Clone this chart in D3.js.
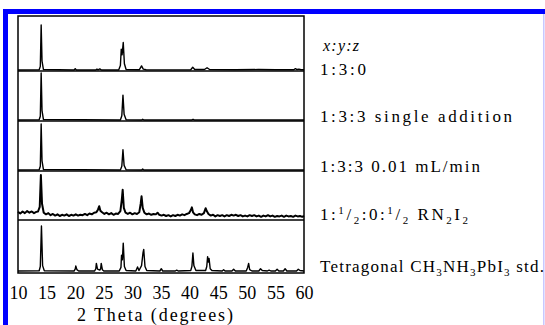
<!DOCTYPE html>
<html>
<head>
<meta charset="utf-8">
<script src="https://cdn.jsdelivr.net/npm/d3@7"></script>
<style>
  body { margin: 0; background: #fff; }
  svg { display: block; }
  text { font-family: "Liberation Serif", "Times New Roman", "DejaVu Serif", serif; fill: #000; }
</style>
</head>
<body>
<script>
// 2 theta tick labels
let xTicks = [10, 15, 20, 25, 30, 35, 40, 45, 50, 55, 60]

// each pattern as [2theta, relative intensity]
let xrd130 = [[10,0],[13.7,0.5],[13.9,8],[14.05,100],[14.2,20],[14.45,1],[19.8,0],[20.0,3],[20.2,0],[23.6,0],[23.8,2],[24.0,0.5],[24.3,2.5],[24.6,0],
	[27.6,0],[27.9,10],[28.05,46],[28.2,34],[28.4,61],[28.6,14],[28.9,1],[31.2,0.5],[31.6,9],[31.9,2],[32.4,0.5],[36,0.3],[40.2,0.5],[40.55,6],[40.9,1],
	[42.6,1],[43.05,5],[43.5,1],[48,0.5],[52,1],[55,0.4],[58.2,0.5],[58.5,3],[58.8,1],[59.1,2],[59.5,0.5],[60,0.5]]

let xrd133single = [[10,0],[13.7,0.5],[13.9,8],[14.05,100],[14.2,20],[14.45,1],[27.9,0],[28.15,9],[28.35,53],[28.55,12],[28.9,0.5],
	[31.6,0],[31.8,1.5],[32.0,0],[40.4,0],[40.6,1.5],[40.8,0],[60,0]]

let xrd133slow = [[10,0],[13.7,0.5],[13.9,8],[14.05,100],[14.2,20],[14.45,1],[27.9,0],[28.15,8],[28.35,44],[28.55,10],[28.9,0.5],
	[31.6,0],[31.8,2],[32.0,0],[60,0]]

let xrdRN2I2 = [[10,10],[10.4,6],[10.8,11],[11.2,7],[11.6,12],[12,8],[12.4,11],[12.8,7],[13.2,10],[13.5,11],[13.8,22],[14.0,100],[14.2,30],[14.5,8],
	[14.9,4],[15.3,7],[15.7,2],[16.1,5],[16.5,1],[16.9,4],[17.3,0],[17.7,3],[18.1,1],[18.5,4],[18.9,0],[19.3,3],[19.7,1],[20.1,4],[20.5,1],[20.9,3],
	[21.3,2],[21.7,5],[22.1,2],[22.5,6],[22.9,4],[23.3,8],[23.7,9],[24.0,16],[24.2,24],[24.4,13],[24.7,9],[25.1,5],[25.5,8],[25.9,4],[26.3,7],[26.7,3],
	[27.1,6],[27.5,5],[27.9,12],[28.15,40],[28.3,64],[28.5,20],[28.8,8],[29.2,5],[29.6,8],[30.0,4],[30.4,7],[30.8,5],[31.2,9],[31.45,30],[31.6,48],
	[31.8,20],[32.1,8],[32.5,4],[32.9,6],[33.3,3],[33.7,5],[34.1,4],[34.4,8],[34.7,3],[35.1,1],[35.5,3],[35.9,0],[36.3,2],[36.7,-1],[37.1,2],[37.5,0],
	[37.9,3],[38.3,1],[38.7,4],[39.1,2],[39.5,5],[39.9,7],[40.2,14],[40.4,21],[40.6,9],[40.9,4],[41.3,2],[41.7,5],[42.1,3],[42.5,7],[42.8,19],[43.0,12],
	[43.3,5],[43.7,1],[44.1,3],[44.5,-1],[44.9,2],[45.3,0],[45.7,2],[46.1,-1],[46.5,2],[46.9,0],[47.3,3],[47.7,1],[48.1,3],[48.5,0],[48.9,2],[49.3,-1],
	[49.7,1],[50.1,-1],[50.5,2],[50.9,0],[51.3,2],[51.7,-1],[52.1,1],[52.5,-2],[52.9,1],[53.3,-1],[53.7,2],[54.1,-1],[54.5,1],[54.9,-2],[55.3,0],
	[55.7,-1],[56.1,1],[56.5,-2],[56.9,1],[57.3,-1],[57.7,0],[58.1,-2],[58.5,1],[58.9,-1],[59.3,0],[59.7,-2],[60,0]]

let xrdStd = [[10,0],[13.7,0.5],[13.9,10],[14.1,100],[14.3,12],[14.6,0.5],[19.8,0],[20.0,4],[20.1,11],[20.3,3],[20.6,0],[23.4,0],[23.6,5],[23.7,17],
	[23.9,4],[24.3,2],[24.45,5],[24.55,17],[24.75,3],[25.0,0],[27.7,0],[28.0,8],[28.1,35],[28.25,25],[28.4,62],[28.6,10],[28.9,1],[30.6,0],[30.9,9],
	[31.15,1],[31.6,12],[31.85,40],[31.98,48],[32.2,10],[32.5,1],[34.8,0],[35.05,5],[35.3,0],[37.5,0],[37.75,2],[38.0,0],[40.2,1],[40.4,10],[40.58,40],
	[40.75,12],[41.1,1],[42.8,1],[43.0,10],[43.15,32],[43.28,20],[43.4,28],[43.6,5],[43.9,1],[45.7,0],[45.95,3],[46.2,0],[47.4,0],[47.7,4],[48.0,0],
	[49.9,0],[50.15,8],[50.32,17],[50.5,3],[50.9,0],[52.1,0],[52.4,5],[52.7,1],[53.6,0],[53.9,2],[54.2,0],[55.0,0],[55.3,4],[55.6,0],[56.4,0],[56.7,5],
	[57.0,0],[58.7,0],[59.0,4],[59.3,1],[60,0]]

let series = [xrd130, xrd133single, xrd133slow, xrdRN2I2, xrdStd]

let width = 545, height = 325
let plot = {left: 18, right: 304, top: 16, bottom: 273}
// baseline / peak-top pixel rows of each stacked panel
let baselines = [70, 120, 170, 216, 271]
let peakTops = [25, 73, 124, 175, 226]
let separators = [71, 121, 171, 220]
let fontList = '"Liberation Serif", "Times New Roman", "DejaVu Serif", serif'

let svg = d3.select('body').append('svg')
	.attr('width', width).attr('height', height)

// blue window border
svg.append('rect').attr('x', 3).attr('y', 9).attr('width', 542).attr('height', 5).attr('fill', '#0000ff')
svg.append('rect').attr('x', 3).attr('y', 9).attr('width', 5).attr('height', 316).attr('fill', '#0000ff')
svg.append('rect').attr('x', 543).attr('y', 14).attr('width', 1.5).attr('height', 311).attr('fill', '#c8c8ff')

let x = d3.scaleLinear().domain([10, 60]).range([plot.left, plot.right])

let line = d3.line()

series.forEach(function(data, i) {
	let y = d3.scaleLinear().domain([0, 100]).range([baselines[i], peakTops[i]])
	line.x(d => x(d[0])).y(d => y(d[1]))
	svg.append('path')
		.attr('d', line(data))
		.attr('fill', 'none')
		.attr('stroke', '#000')
		.attr('stroke-width', i == 3 ? 2 : 1.4)
		.attr('stroke-linejoin', 'round')
})

// frame and panel separators
svg.append('rect')
	.attr('x', plot.left).attr('y', plot.top)
	.attr('width', plot.right - plot.left).attr('height', plot.bottom - plot.top)
	.attr('fill', 'none').attr('stroke', '#000').attr('stroke-width', 1.5)
svg.selectAll('line.sep').data(separators).enter().append('line')
	.attr('class', 'sep')
	.attr('x1', plot.left).attr('x2', plot.right)
	.attr('y1', d => d).attr('y2', d => d)
	.attr('stroke', '#000').attr('stroke-width', 1.3)

let axis = svg.append('g')
	.attr('transform', `translate(0,${plot.bottom})`)
	.call(d3.axisBottom(x).tickValues(xTicks).tickSize(0).tickPadding(13))
axis.attr('font-family', null)
axis.select('.domain').remove()
axis.selectAll('text')
	.style('font-family', fontList)
	.style('font-size', '18px')
	.attr('textLength', 18).attr('lengthAdjust', 'spacing')

svg.append('text')
	.attr('x', 77).attr('y', 321)
	.attr('textLength', 156).attr('lengthAdjust', 'spacing')
	.style('font-size', '18px')
	.text('2 Theta (degrees)')

// sample labels
svg.append('text')
	.attr('x', 323).attr('y', 51)
	.attr('textLength', 36).attr('lengthAdjust', 'spacing')
	.style('font-size', '16px').style('font-style', 'italic')
	.text('x:y:z')

let addLabel = function(yPos, len, parts) {
	let t = svg.append('text')
		.attr('x', 320).attr('y', yPos)
		.attr('textLength', len).attr('lengthAdjust', 'spacing')
		.style('font-size', '17px')
	for (let p of parts) {
		let s = t.append('tspan').text(p[0])
		if (p[1] == 'sub') s.attr('dy', 4).style('font-size', '11px')
		if (p[1] == 'sup') s.attr('dy', -6).style('font-size', '11px')
		if (p[2]) s.attr('dy', p[2])
	}
}

addLabel(75, 46, [['1:3:0']])
addLabel(122, 192, [['1:3:3 single addition']])
addLabel(172, 160, [['1:3:3 0.01 mL/min']])
addLabel(220, 148, [['1:'], ['1', 'sup'], ['/', '', 6], ['2', 'sub'], [':0:', '', -4], ['1', 'sup'], ['/', '', 6], ['2', 'sub'],
	[' RN', '', -4], ['2', 'sub'], ['I', '', -4], ['2', 'sub']])
addLabel(272, 224, [['Tetragonal CH'], ['3', 'sub'], ['NH', '', -4], ['3', 'sub'], ['PbI', '', -4], ['3', 'sub'], [' std.', '', -4]])
</script>
</body>
</html>
